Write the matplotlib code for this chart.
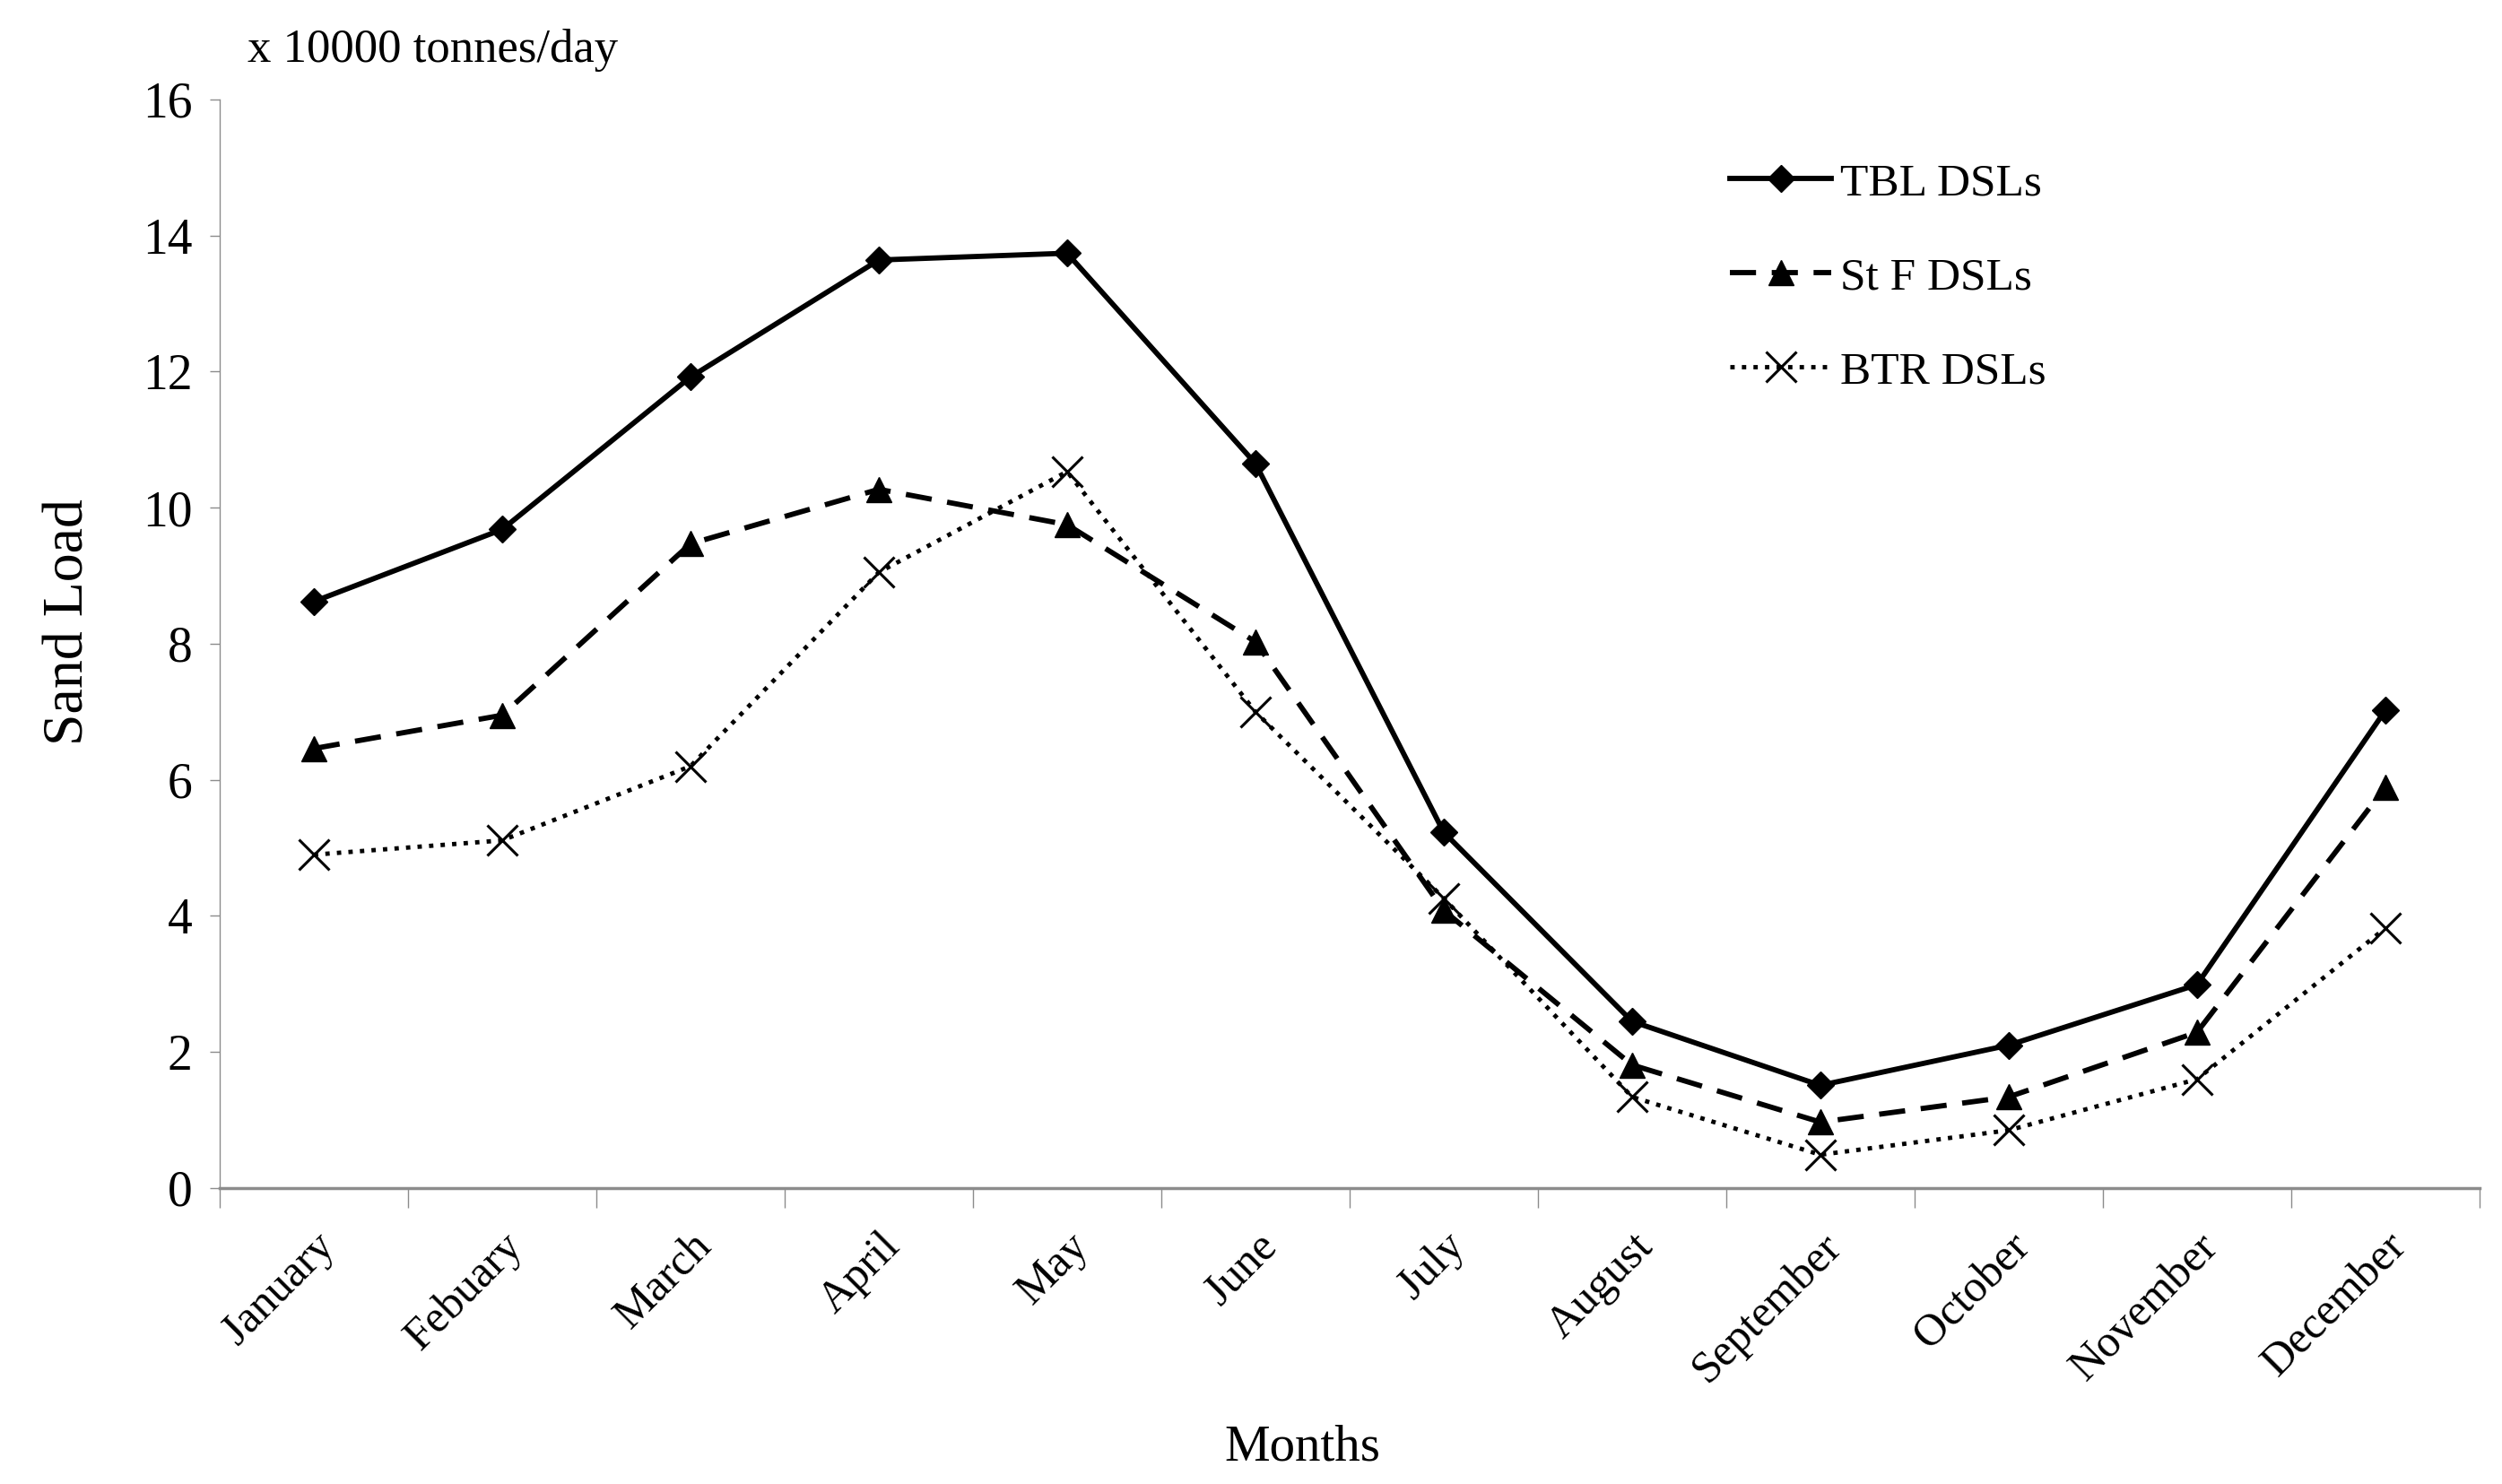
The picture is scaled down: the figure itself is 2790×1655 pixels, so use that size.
import matplotlib
matplotlib.use('Agg')
import matplotlib.pyplot as plt
import numpy as np

plt.rcParams['font.family'] = ['Liberation Serif', 'DejaVu Serif']

months = ['January', 'Febuary', 'March', 'April', 'May', 'June', 'July',
          'August', 'September', 'October', 'November', 'December']
tbl = [8.62, 9.68, 11.92, 13.64, 13.74, 10.65, 5.23, 2.45, 1.51, 2.10, 2.99, 7.02]
stf = [6.46, 6.95, 9.47, 10.27, 9.75, 8.03, 4.08, 1.81, 0.97, 1.34, 2.29, 5.89]
btr = [4.90, 5.11, 6.20, 9.05, 10.53, 7.00, 4.26, 1.34, 0.49, 0.85, 1.60, 3.82]
yticks = [0, 2, 4, 6, 8, 10, 12, 14, 16]

fig = plt.figure(figsize=(27.9, 16.55), dpi=100)
ax = fig.add_axes([0.0878, 0.1994, 0.9032, 0.7336])

x = np.arange(len(months))
ax.plot(x, tbl, color='black', lw=4.2, marker='D', ms=15, label='TBL DSLs')
ax.plot(x, stf, color='black', lw=4.2, dashes=[5, 3], marker='^', ms=20,
        label='St F DSLs')
ax.plot(x, btr, color='black', lw=3.5, ls=':', marker='x', ms=24, mew=2.2,
        label='BTR DSLs')

ax.set_xlim(-0.5, len(months) - 0.5)
ax.set_ylim(0, 16)
ax.set_yticks(yticks)
ax.set_yticklabels([str(v) for v in yticks], fontsize=40)

# category axis: ticks between categories, labels at centres
ax.set_xticks(np.arange(-0.5, len(months)), minor=False)
ax.set_xticklabels([])
ax.set_xticks(x, minor=True)
ax.set_xticklabels(months, minor=True, rotation=45, ha='right',
                   rotation_mode='anchor', fontsize=36)
ax.tick_params(axis='x', which='major', length=16, width=1, color='#8c8c8c')
ax.tick_params(axis='x', which='minor', length=0, pad=30)
ax.tick_params(axis='y', length=8, width=1, color='#8c8c8c', pad=14)

for s in ['top', 'right']:
    ax.spines[s].set_visible(False)
ax.spines['left'].set_color('#8c8c8c')
ax.spines['left'].set_linewidth(1)
ax.spines['bottom'].set_color('#8c8c8c')
ax.spines['bottom'].set_linewidth(2.5)

ax.set_xlabel('Months', fontsize=41)
ax.xaxis.set_label_coords(0.479, -0.217)
ax.set_ylabel('Sand Load', fontsize=46)
ax.yaxis.set_label_coords(-0.055, 0.52)
fig.text(0.099, 0.966, 'x 10000 tonnes/day', fontsize=38, va='center')

ax.legend(loc='upper left', bbox_to_anchor=(0.65, 0.98), frameon=False,
          fontsize=37, handlelength=2.2, labelspacing=1.13, handletextpad=0.2)

fig.savefig('out.png', dpi=100)
